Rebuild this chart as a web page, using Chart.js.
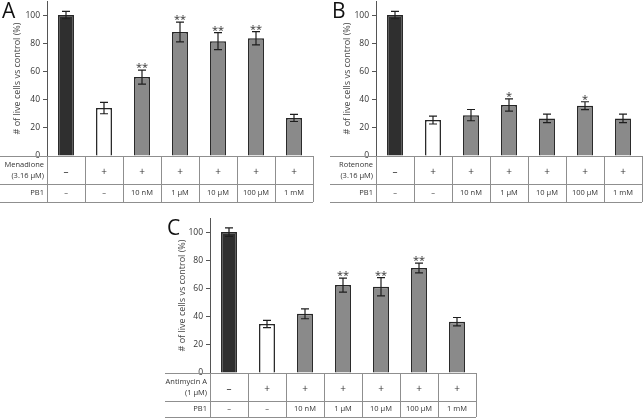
<!DOCTYPE html>
<html>
<head>
<meta charset="utf-8">
<script src="https://cdn.jsdelivr.net/npm/chart.js@4"></script>
<style>
  body { margin: 0; background: #fff; }
  .wrap { position: relative; width: 643px; height: 419px; overflow: hidden; }
  canvas { position: absolute; }
  #panelA { left: 0; top: 0; }
  #panelB { left: 320px; top: 0; }
  #panelC { left: 150px; top: 217px; }
</style>
</head>
<body>
<div class="wrap">
  <canvas id="panelA" width="320" height="210"></canvas>
  <canvas id="panelB" width="323" height="210"></canvas>
  <canvas id="panelC" width="340" height="202"></canvas>
</div>
<script>
// table rows under the bars (same for all panels)
const treatmentRow = ['–', '+', '+', '+', '+', '+', '+'];
const pb1Doses = ['–', '–', '10 nM', '1 µM', '10 µM', '100 µM', '1 mM'];

// A: menadione
const menadioneMeans = [100, 34, 56, 88, 81.5, 83.5, 27];
const menadioneErrors = [2.6, 4, 5, 7, 6, 4.7, 2.5];
const menadioneStars = ['', '', '**', '**', '**', '**', ''];

// B: rotenone
const rotenoneMeans = [100, 25.5, 29, 36.2, 26.7, 35.7, 26.7];
const rotenoneErrors = [2.6, 2.8, 4, 4.3, 3, 2.8, 3];
const rotenoneStars = ['', '', '', '*', '', '*', ''];

// C: antimycin A
const antimycinMeans = [100, 34.8, 42, 62.4, 61.2, 74.5, 36.4];
const antimycinErrors = [3, 2.6, 3.5, 5, 6.5, 3.5, 3];
const antimycinStars = ['', '', '', '**', '**', '**', ''];

const FONT = '"Open Sans", "DejaVu Sans", sans-serif';
Chart.defaults.font.family = FONT;
Chart.defaults.color = '#333';

const barFill = ['#2f2f2f', '#ffffff', '#8a8a8a', '#8a8a8a', '#8a8a8a', '#8a8a8a', '#8a8a8a'];

const panelPlugin = {
  id: 'panel',
  afterDatasetsDraw(chart, args, opts) {
    const {ctx, scales: {x, y}} = chart;
    const means = chart.data.datasets[0].data;
    ctx.save();
    ctx.strokeStyle = '#1e1e1e';
    ctx.lineWidth = 1.2;
    means.forEach((m, i) => {
      const cx = x.getPixelForValue(i);
      const yt = y.getPixelForValue(m + opts.errors[i]);
      const yb = y.getPixelForValue(m - opts.errors[i]);
      ctx.beginPath();
      ctx.moveTo(cx, yt); ctx.lineTo(cx, yb);
      ctx.moveTo(cx - 4, yt); ctx.lineTo(cx + 4, yt);
      ctx.moveTo(cx - 4, yb); ctx.lineTo(cx + 4, yb);
      ctx.stroke();
      if (opts.stars[i]) {
        ctx.fillStyle = '#333';
        ctx.font = '11px ' + FONT;
        ctx.textAlign = 'center';
        ctx.textBaseline = 'alphabetic';
        ctx.fillText(opts.stars[i], cx, yt + 1);
      }
    });
    ctx.restore();
  },
  afterDraw(chart, args, opts) {
    const {ctx, chartArea: ca} = chart;
    const n = chart.data.labels.length;
    const step = ca.width / n;
    const y0 = ca.bottom, y1 = y0 + opts.rowHeights[0], y2 = y1 + opts.rowHeights[1];
    ctx.save();
    ctx.strokeStyle = '#8f8f8f';
    ctx.lineWidth = 1;
    ctx.beginPath();
    [y0, y1, y2].forEach(yy => {
      ctx.moveTo(opts.tableLeft, Math.round(yy) + 0.5);
      ctx.lineTo(ca.right, Math.round(yy) + 0.5);
    });
    for (let i = 0; i <= n; i++) {
      const xx = Math.round(ca.left + i * step) + 0.5;
      ctx.moveTo(xx, y0);
      ctx.lineTo(xx, y2);
    }
    ctx.stroke();

    ctx.fillStyle = '#333';
    ctx.font = '7.5px ' + FONT;
    ctx.textAlign = 'right';
    ctx.textBaseline = 'middle';
    ctx.fillText(opts.rowLabel[0], ca.left - 3, y0 + 9);
    ctx.fillText(opts.rowLabel[1], ca.left - 3, y0 + 19.5);
    ctx.fillText('PB1', ca.left - 3, (y1 + y2) / 2);
    ctx.textAlign = 'center';
    ctx.font = '10px ' + FONT;
    treatmentRow.forEach((t, i) => ctx.fillText(t, ca.left + (i + 0.5) * step, (y0 + y1) / 2 + 2));
    ctx.font = '7.5px ' + FONT;
    pb1Doses.forEach((t, i) => ctx.fillText(t, ca.left + (i + 0.5) * step, (y1 + y2) / 2));

    ctx.fillStyle = '#111';
    ctx.font = '21px ' + FONT;
    ctx.textAlign = 'left';
    ctx.textBaseline = 'alphabetic';
    ctx.fillText(opts.letter, opts.tableLeft + 2, 18);
    ctx.restore();
  }
};

function makePanel(id, p) {
  const canvas = document.getElementById(id);
  new Chart(canvas, {
    type: 'bar',
    data: {
      labels: pb1Doses,
      datasets: [{
        data: p.means,
        backgroundColor: barFill,
        borderColor: '#262626',
        borderWidth: 1.5,
        categoryPercentage: 1,
        barPercentage: 0.42
      }]
    },
    options: {
      responsive: false,
      animation: false,
      layout: {
        padding: {
          left: p.tableLeft,
          top: 1,
          right: canvas.width - p.axisX - 266,
          bottom: canvas.height - 156
        }
      },
      plugins: {
        legend: { display: false },
        tooltip: { enabled: false },
        panel: {
          letter: p.letter,
          rowLabel: p.rowLabel,
          errors: p.errors,
          stars: p.stars,
          tableLeft: p.tableLeft,
          rowHeights: p.rowHeights
        }
      },
      scales: {
        x: { display: false },
        y: {
          min: 0,
          max: 110,
          ticks: { stepSize: 20, font: { size: 8.5 }, color: '#333', padding: 3 },
          grid: { drawOnChartArea: false, drawTicks: true, tickLength: 4, color: '#555' },
          border: { display: true, color: '#555', width: 1 },
          title: {
            display: true,
            text: '# of live cells vs control (%)',
            font: { size: 9 },
            color: '#444',
            padding: { top: 12.5, bottom: 0 }
          },
          afterBuildTicks: s => { s.ticks = s.ticks.filter(t => t.value <= 100); },
          afterFit: s => {
            s.width = p.axisX - p.tableLeft;
            s.paddingTop = 0;
            s.paddingBottom = 0;
          }
        }
      }
    },
    plugins: [panelPlugin]
  });
}

makePanel('panelA', {
  letter: 'A', rowLabel: ['Menadione', '(3.16 µM)'],
  means: menadioneMeans, errors: menadioneErrors, stars: menadioneStars,
  tableLeft: 0, axisX: 47, rowHeights: [28, 18]
});
makePanel('panelB', {
  letter: 'B', rowLabel: ['Rotenone', '(3.16 µM)'],
  means: rotenoneMeans, errors: rotenoneErrors, stars: rotenoneStars,
  tableLeft: 10, axisX: 56, rowHeights: [28, 18]
});
makePanel('panelC', {
  letter: 'C', rowLabel: ['Antimycin A', '(1 µM)'],
  means: antimycinMeans, errors: antimycinErrors, stars: antimycinStars,
  tableLeft: 15, axisX: 60, rowHeights: [28, 16]
});
</script>
</body>
</html>
